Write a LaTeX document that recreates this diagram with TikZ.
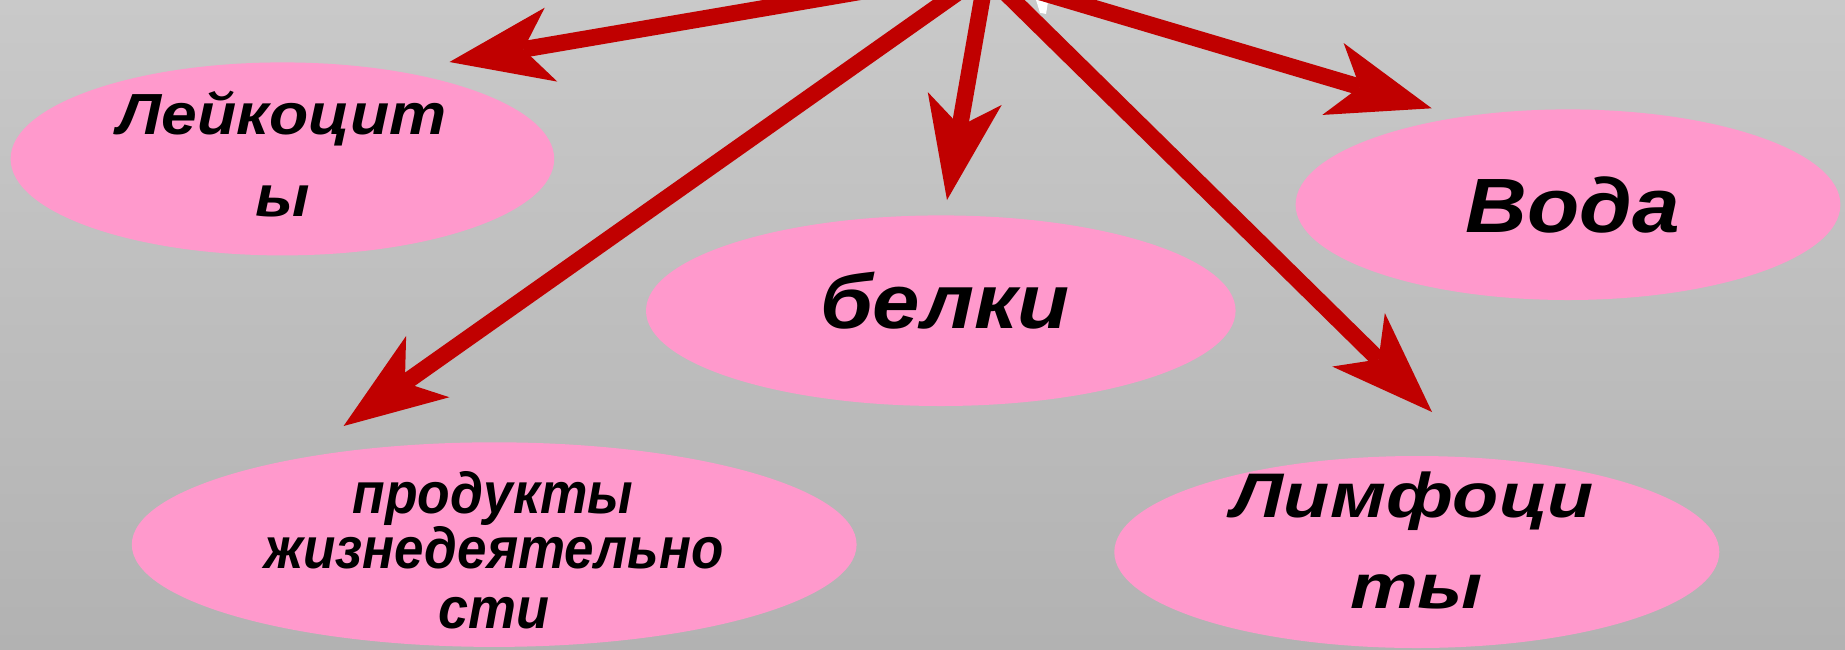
\documentclass[tikz,border=0pt]{standalone}
\usepackage{fontspec}
\setmainfont{Liberation Sans}
\usetikzlibrary{arrows.meta,shapes.geometric}
\definecolor{pinkfill}{RGB}{255,153,204}
\definecolor{arrred}{RGB}{192,0,0}
\definecolor{bgtop}{RGB}{201,201,201}
\definecolor{bgbot}{RGB}{178,178,178}
\newcommand{\sx}[2]{\scalebox{#1}[1]{#2}}
\begin{document}
\begin{tikzpicture}[x=1pt,y=-1pt,
  blob/.style={ellipse, fill=pinkfill, draw=none, inner sep=0pt},
  arr/.style={draw=arrred, line width=16.5pt,
    -{Stealth[length=103pt,width=75pt,inset=28pt,line width=0pt]}},
  lbl/.style={anchor=base, inner sep=0pt, text=black},
  fsmall/.style={font=\bfseries\itshape\fontsize{58}{58}\selectfont},
  fmid/.style={font=\bfseries\itshape\fontsize{63}{63}\selectfont},
  fbig/.style={font=\bfseries\itshape\fontsize{77}{77}\selectfont},
]
\useasboundingbox (0,0) rectangle (1845,649);
\clip (0,0) rectangle (1845,649);
\shade[top color=bgtop, bottom color=bgbot] (0,0) rectangle (1845,649);

% ellipses
\node[blob, minimum width=543.6pt, minimum height=193pt] (lei) at (282.4,158.9) {};
\node[blob, minimum width=589.6pt, minimum height=190.6pt] (bel) at (940.8,310.7) {};
\node[blob, minimum width=544.8pt, minimum height=190.6pt] (voda) at (1568,204.7) {};
\node[blob, minimum width=724.8pt, minimum height=204.6pt] (prod) at (494.2,544.6) {};
\node[blob, minimum width=605pt, minimum height=192pt] (lim) at (1416.8,552) {};

% small white fragment at the top
\fill[white] (1036,0) -- (1048.3,0) -- (1046,14) -- (1040,12.7) -- cycle;

% arrows
\coordinate (sA) at (929,-20);   \coordinate (tA) at (449.5,62);
\coordinate (sB) at (975.5,-20); \coordinate (tB) at (343.6,426);
\coordinate (sC) at (985.4,-20); \coordinate (tC) at (947,200);
\coordinate (sD) at (992.6,-20); \coordinate (tD) at (1432,412);
\coordinate (sE) at (999.7,-20); \coordinate (tE) at (1431.7,108.3);
\draw[arr] (sA) -- (tA);
\draw[arr] (sB) -- (tB);
\draw[arr] (sC) -- (tC);
\draw[arr] (sD) -- (tD);
\draw[arr] (sE) -- (tE);

% texts
\node[lbl, fsmall] (lei1) at (282,134.3) {\sx{1.107}{Лейкоцит}};
\node[lbl, fsmall] (lei2) at (282.5,216.7) {\sx{1.1}{ы}};
\node[lbl, fbig] (belt) at (944.7,328.3) {\sx{1.106}{белки}};
\node[lbl, fbig] (vodat) at (1573,232.7) {\sx{1.11}{Вода}};
\node[lbl, fsmall] (prod1) at (493,513.3) {\sx{0.92}{продукты}};
\node[lbl, fsmall] (prod2) at (494,568.3) {\sx{0.913}{жизнедеятельно}};
\node[lbl, fsmall] (prod3) at (494,628.3) {\sx{0.93}{сти}};
\node[lbl, fmid] (lim1) at (1413,517.7) {\sx{1.2}{Лимфоци}};
\node[lbl, fmid] (lim2) at (1416.5,608.3) {\sx{1.21}{ты}};
\end{tikzpicture}
\end{document}
